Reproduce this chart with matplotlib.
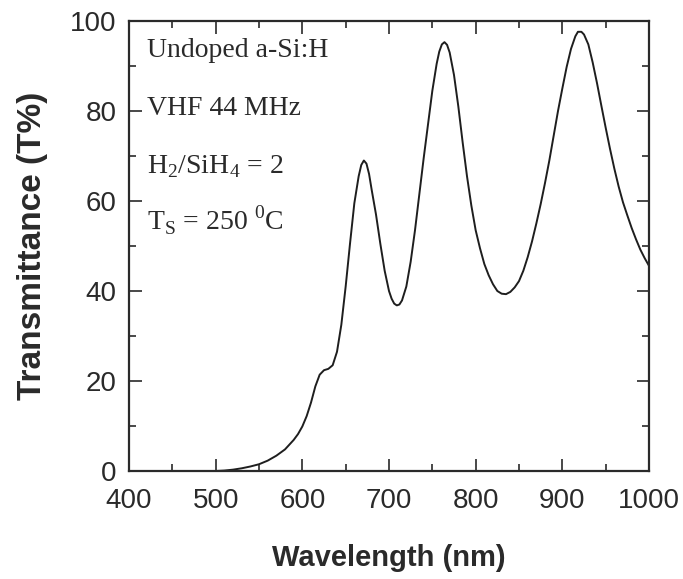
"""Transmittance spectrum of undoped a-Si:H film (VHF 44 MHz deposition)."""

import matplotlib

matplotlib.use("Agg")
import matplotlib.pyplot as plt
from matplotlib.ticker import MultipleLocator

# wavelength (nm) and transmittance (%)
wavelength_nm = [
    500, 510, 520, 530, 540, 550, 560, 570, 580, 590, 595, 600, 605, 610,
    615, 620, 625, 630, 635, 640, 645, 650, 655, 660, 665, 668, 671, 674,
    677, 680, 685, 690, 695, 700, 703, 706, 709, 712, 715, 720, 725, 730,
    735, 740, 745, 750, 755, 758, 761, 764, 767, 770, 775, 780, 785, 790,
    795, 800, 805, 810, 815, 820, 825, 830, 835, 840, 845, 850, 855, 860,
    865, 870, 875, 880, 885, 890, 895, 900, 905, 910, 915, 918, 922, 925,
    930, 935, 940, 945, 950, 955, 960, 965, 970, 975, 980, 985, 990, 995,
    1000,
]
transmittance = [
    0.0, 0.1, 0.3, 0.6, 1.0, 1.5, 2.3, 3.4, 4.8, 6.9, 8.2, 9.9, 12.2, 15.2,
    18.8, 21.4, 22.4, 22.7, 23.5, 26.5, 32.5, 41.0, 50.5, 59.5, 65.5, 68.0,
    69.0, 68.3, 66.0, 62.5, 57.0, 50.5, 44.5, 40.0, 38.3, 37.2, 36.8, 37.0,
    37.9, 41.0, 46.5, 53.5, 61.5, 69.5, 77.0, 84.5, 90.5, 93.2, 94.8, 95.3,
    94.7, 93.0, 88.0, 81.0, 73.0, 65.5, 59.0, 53.5, 49.5, 46.0, 43.5, 41.5,
    40.0, 39.4, 39.3, 39.8, 40.8, 42.2, 44.5, 47.5, 51.0, 55.0, 59.3, 64.0,
    69.0, 74.5, 80.0, 85.0, 89.8, 93.8, 96.6, 97.6, 97.6, 97.0, 94.8, 90.8,
    86.2, 81.2, 76.3, 71.6, 67.2, 63.2, 59.7, 56.8, 54.0, 51.5, 49.2, 47.3,
    45.6,
]

notes = [
    (421, 92.0, "Undoped a-Si:H"),
    (421, 79.1, "VHF 44 MHz"),
    (421, 66.2, r"H$_{\rm 2}$/SiH$_{\rm 4}$ = 2"),
    (421, 53.6, r"T$_{\rm S}$ = 250 $^{\rm 0}$C"),
]

INK = "#2a2a2a"

plt.rcParams["font.family"] = ["Liberation Sans", "DejaVu Sans"]
plt.rcParams["mathtext.fontset"] = "custom"
plt.rcParams["mathtext.rm"] = "Liberation Serif"

fig = plt.figure(figsize=(6.83, 5.79), dpi=100)
ax = fig.add_axes([129 / 683, 1 - 471 / 579, 520 / 683, 450 / 579])

ax.plot(wavelength_nm, transmittance, color="#1e1e1e", lw=1.4)

ax.set_xlim(400, 1000)
ax.set_ylim(0, 100)
ax.xaxis.set_major_locator(MultipleLocator(100))
ax.xaxis.set_minor_locator(MultipleLocator(50))
ax.yaxis.set_major_locator(MultipleLocator(20))
ax.yaxis.set_minor_locator(MultipleLocator(10))

ax.tick_params(which="both", direction="in", top=True, right=True,
               color=INK, width=1.2, labelcolor=INK, labelsize=20)
ax.tick_params(which="major", length=9)
ax.tick_params(which="minor", length=5)
ax.tick_params(axis="x", pad=12)
ax.tick_params(axis="y", pad=9)
for side in ax.spines.values():
    side.set_linewidth(1.6)
    side.set_color(INK)

ax.set_xlabel("Wavelength (nm)", fontsize=21, fontweight="bold", color=INK,
              labelpad=22)
ax.set_ylabel("Transmittance (T%)", fontsize=24, fontweight="bold", color=INK,
              labelpad=16)

for x, y, s in notes:
    ax.text(x, y, s, fontsize=20, family="Liberation Serif", color=INK,
            va="baseline", ha="left")

fig.savefig("out.png", dpi=100)
